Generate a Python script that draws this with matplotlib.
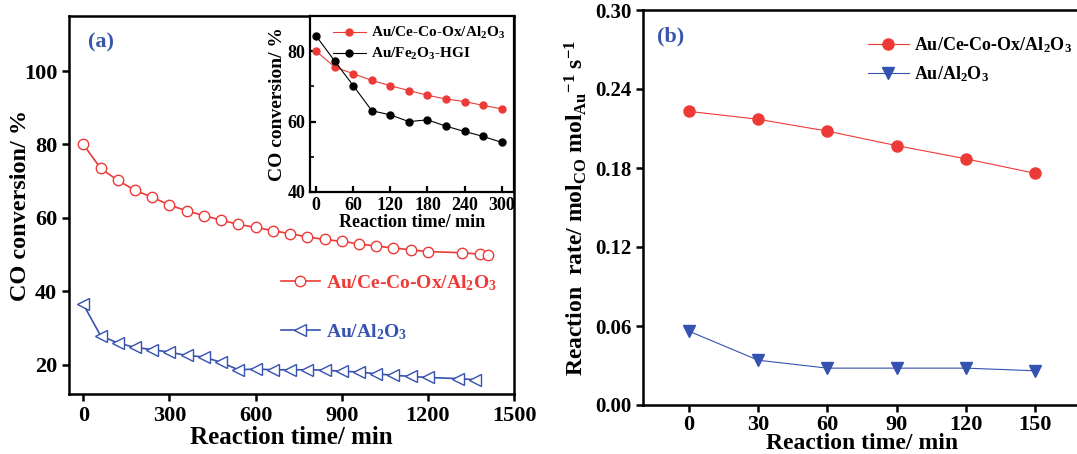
import matplotlib
matplotlib.use('Agg')
import matplotlib.pyplot as plt
import matplotlib.ticker as ticker

plt.rcParams['font.family'] = ['Liberation Serif', 'DejaVu Serif']
plt.rcParams['font.weight'] = 'bold'
plt.rcParams['axes.labelweight'] = 'bold'
plt.rcParams['mathtext.fontset'] = 'custom'
plt.rcParams['mathtext.rm'] = 'Liberation Serif:bold'
plt.rcParams['mathtext.bf'] = 'Liberation Serif:bold'
plt.rcParams['mathtext.it'] = 'Liberation Serif:bold'

RED = '#ee3a36'
BLUE = '#3552b0'
LBL_BLUE = '#3a56a8'

# (a) long-term stability
time_a_red = [0, 60, 120, 180, 240, 300, 360, 420, 480, 540, 600, 660, 720,
              780, 840, 900, 960, 1020, 1080, 1140, 1200, 1320, 1380, 1410]
conv_a_red = [80, 73.5, 70.2, 67.5, 65.6, 63.5, 61.9, 60.6, 59.4, 58.2, 57.4,
              56.5, 55.7, 54.8, 54.1, 53.6, 52.9, 52.3, 51.8, 51.3, 50.8,
              50.5, 50.1, 49.8]
time_a_blue = [0, 60, 120, 180, 240, 300, 360, 420, 480, 540, 600, 660, 720,
               780, 840, 900, 960, 1020, 1080, 1140, 1200, 1305, 1365]
conv_a_blue = [36.4, 27.9, 25.9, 24.7, 24.1, 23.4, 22.5, 22.1, 20.6, 18.6,
               18.8, 18.6, 18.6, 18.6, 18.5, 18.2, 18.0, 17.5, 17.1, 16.8,
               16.5, 16.2, 15.9]

# inset
time_in = [0, 30, 60, 90, 120, 150, 180, 210, 240, 270, 300]
conv_in_red = [80.0, 75.5, 73.6, 71.7, 70.2, 68.8, 67.5, 66.4, 65.7, 64.6, 63.6]
conv_in_black = [84.3, 77.2, 70.2, 63.1, 61.9, 60.0, 60.5, 58.7, 57.2, 55.8, 54.1]

# (b) reaction rate
time_b = [0, 30, 60, 90, 120, 150]
rate_b_red = [0.223, 0.217, 0.208, 0.197, 0.187, 0.176]
rate_b_blue = [0.056, 0.034, 0.028, 0.028, 0.028, 0.026]

lbl_ce = 'Au/Ce-Co-Ox/Al$_2$O$_3$'
lbl_al = 'Au/Al$_2$O$_3$'
lbl_fe = 'Au/Fe$_2$O$_3$-HGI'

W, H = 1077, 454
fig = plt.figure(figsize=(W / 100, H / 100), dpi=100)


def px_axes(l, t, r, b):
    return fig.add_axes([l / W, (H - b) / H, (r - l) / W, (b - t) / H])


def style(ax, lw=1.8, direction='out', size=5, fs=16):
    for s in ax.spines.values():
        s.set_linewidth(lw)
    ax.tick_params(direction=direction, length=size, width=lw, labelsize=fs)


# ---- panel (a)
ax1 = px_axes(69, 16, 514, 394)
ax1.plot(time_a_red, conv_a_red, color=RED, marker='o', mfc='white',
         mec=RED, ms=7.5, lw=1.2, label=lbl_ce)
ax1.plot(time_a_blue, conv_a_blue, color=BLUE, marker='<', mfc='white',
         mec=BLUE, ms=8, lw=1.2, label=lbl_al)
ax1.set_xlim(-50, 1500)
ax1.set_ylim(12, 115)
ax1.set_xticks([0, 300, 600, 900, 1200, 1500])
ax1.set_yticks([20, 40, 60, 80, 100])
style(ax1)
ax1.set_xlabel('Reaction time/ min', fontsize=18, labelpad=0)
ax1.set_ylabel('CO conversion/ %', fontsize=17.5, labelpad=-5)
ax1.text(0.043, 0.929, '(a)', transform=ax1.transAxes, color=LBL_BLUE,
         fontsize=16, fontweight='bold', va='center')
ax1.legend(loc='center left', bbox_to_anchor=(0.476, 0.229), frameon=False,
           fontsize=14, labelcolor='linecolor', handlelength=2.0,
           handletextpad=0.3, labelspacing=1.5, borderpad=0,
           borderaxespad=0)

# ---- inset
ax_in = px_axes(310, 16, 514, 192)
ax_in.plot(time_in, conv_in_red, color=RED, marker='o', ms=5, lw=0.8,
           label=lbl_ce)
ax_in.plot(time_in, conv_in_black, color='black', marker='o', ms=5, lw=0.8,
           label=lbl_fe)
ax_in.set_xlim(-10, 320)
ax_in.set_ylim(40, 90)
ax_in.set_xticks([0, 60, 120, 180, 240, 300])
ax_in.set_yticks([40, 60, 80])
ax_in.yaxis.set_minor_locator(ticker.MultipleLocator(10))
style(ax_in, lw=1.6, direction='in', size=4, fs=13)
ax_in.tick_params(which='minor', direction='in', length=3, width=1.2)
ax_in.set_xlabel('Reaction time/ min', fontsize=13, labelpad=0)
ax_in.set_ylabel('CO conversion/ %', fontsize=14, labelpad=1)
ax_in.legend(loc='upper right', frameon=False, fontsize=11,
             handlelength=2.2, handletextpad=0.3, labelspacing=0.3,
             borderaxespad=0.2)

# ---- panel (b)
ax2 = px_axes(643, 10, 1081, 405)
ax2.plot(time_b, rate_b_red, color=RED, marker='o', ms=8, lw=0.8,
         label=lbl_ce)
ax2.plot(time_b, rate_b_blue, color=BLUE, marker='v', ms=8, lw=0.8,
         label=lbl_al)
ax2.set_xlim(-20, 170)
ax2.set_ylim(0, 0.30)
ax2.set_xticks(time_b)
ax2.set_yticks([0.00, 0.06, 0.12, 0.18, 0.24, 0.30])
ax2.yaxis.set_major_formatter(ticker.FormatStrFormatter('%.2f'))
style(ax2)
ax2.tick_params(axis='y', labelsize=15)
ax2.tick_params(axis='x', pad=2)
ax2.set_xlabel('Reaction time/ min', fontsize=17, labelpad=-1)
ax2.set_ylabel('Reaction  rate/ mol$_{CO}$ mol$_{Au}$$^{-1}$ s$^{-1}$',
               fontsize=17, labelpad=4)
ax2.text(0.032, 0.933, '(b)', transform=ax2.transAxes, color=LBL_BLUE,
         fontsize=16, fontweight='bold', va='center')
ax2.legend(loc='upper left', bbox_to_anchor=(0.513, 0.935), frameon=False,
           fontsize=13, handlelength=2.3, handletextpad=0.25,
           labelspacing=0.5, borderpad=0, borderaxespad=0)

fig.savefig('out.png', dpi=100)
